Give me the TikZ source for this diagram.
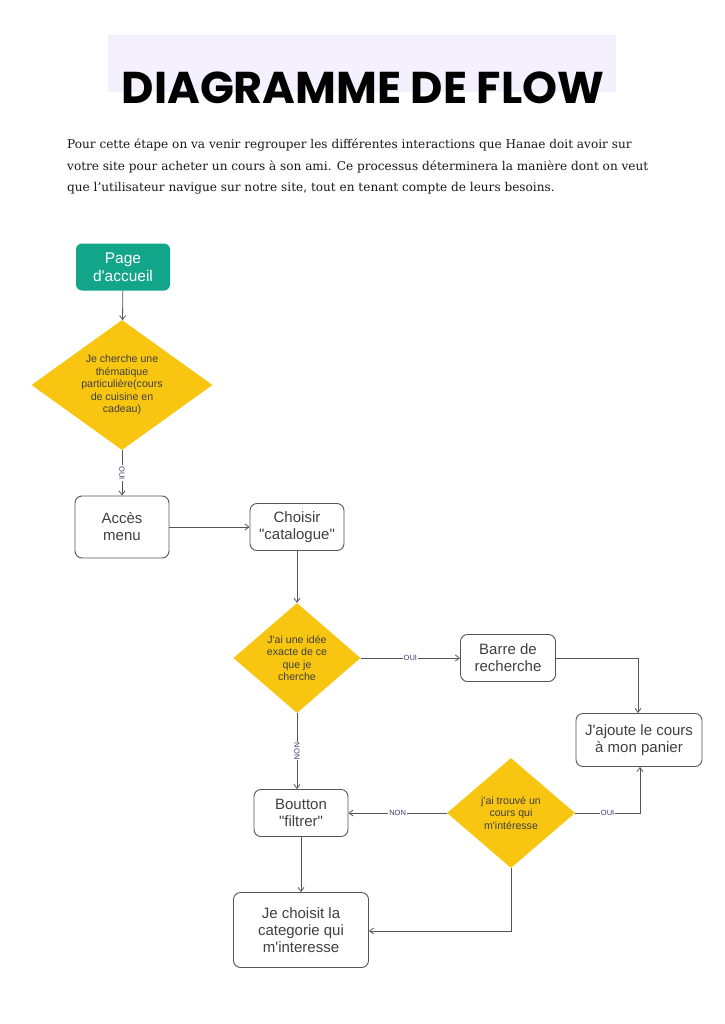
\documentclass[tikz,border=0pt]{standalone}
\usepackage{fontspec}
\setmainfont{DejaVu Serif}
\newfontfamily\titlefont{Poppins}
\newfontfamily\diagfont{Liberation Sans}
\usetikzlibrary{shapes.geometric,arrows.meta}
\definecolor{lav}{HTML}{F5F0FE}
\definecolor{teal}{HTML}{12A58A}
\definecolor{yel}{HTML}{F8C610}
\definecolor{edge}{HTML}{555555}
\definecolor{lbl}{HTML}{3A3A70}
\tikzset{
  box/.style={draw=edge, line width=0.9pt, rounded corners=7pt, fill=white, align=center,
    font=\diagfont\fontsize{15}{17}\selectfont, text=black!75, inner sep=2pt},
  startbox/.style={fill=teal, rounded corners=6pt, align=center,
    font=\diagfont\fontsize{15.5}{18}\selectfont, text=white, inner sep=2pt},
  decision/.style={diamond, fill=yel, inner sep=0pt},
  dtext/.style={align=center, inner sep=0pt, font=\diagfont\fontsize{10.6}{12.4}\selectfont, text=black!75},
  conn/.style={draw=edge, line width=0.8pt, -{Straight Barb[length=4pt,width=6pt]}},
  elabel/.style={fill=white, inner sep=1pt, font=\diagfont\fontsize{7.5}{8}\selectfont, text=lbl}
}
\begin{document}
\begin{tikzpicture}[x=1pt,y=-1pt]
\useasboundingbox (0,0) rectangle (724,1024);
\fill[white] (0,0) rectangle (724,1024);
\fill[lav] (108,35) rectangle (616,92);
\node[font=\titlefont\bfseries\fontsize{44.5}{48}\selectfont, inner sep=0pt] (title) at (363,88) {DIAGRAMME DE FLOW};
\node[anchor=north west, align=left, inner sep=0pt, font=\fontsize{12.1}{21.5}\selectfont, text=black!90] (intro) at (67,139)
{Pour cette étape on va venir regrouper les différentes interactions que Hanae doit avoir sur\\
votre site pour acheter un cours à son ami. Ce processus déterminera la manière dont on veut\\
que l'utilisateur navigue sur notre site, tout en tenant compte de leurs besoins.};

\node[startbox, minimum width=94pt, minimum height=47pt] (accueil) at (123,267) {Page\\d'accueil};
\node[decision, minimum width=181pt, minimum height=130pt] (d1) at (122,385) {};
\node[dtext] (t1) at (d1.center) {Je cherche une\\thématique\\particulière(cours\\de cuisine en\\cadeau)};
\node[box, minimum width=94pt, minimum height=62pt] (acces) at (122,527) {Accès\\menu};
\node[box, minimum width=94pt, minimum height=47pt] (choisir) at (297,527) {Choisir\\"catalogue"};
\node[decision, minimum width=127pt, minimum height=110pt] (d2) at (297,658) {};
\node[dtext] (t2) at (d2.center) {J'ai une idée\\exacte de ce\\que je\\cherche};
\node[box, minimum width=95pt, minimum height=47pt] (barre) at (508,658) {Barre de\\recherche};
\node[box, minimum width=126pt, minimum height=53pt] (panier) at (639,740) {J'ajoute le cours\\à mon panier};
\node[box, minimum width=94pt, minimum height=47pt] (filtrer) at (301,813) {Boutton\\"filtrer"};
\node[decision, minimum width=128pt, minimum height=110pt] (d3) at (511,813) {};
\node[dtext] (t3) at (d3.center) {j'ai trouvé un\\cours qui\\m'intéresse};
\node[box, minimum width=135pt, minimum height=75pt] (categ) at (301,930) {Je choisit la\\categorie qui\\m'interesse};

\coordinate (c1) at (638,658);
\coordinate (c2) at (640,813);
\coordinate (c3) at (511,931);

\draw[conn] (accueil) -- (d1);
\draw[conn] (d1) -- node[elabel, rotate=-90] {OUI} (acces);
\draw[conn] (acces) -- (choisir);
\draw[conn] (choisir.south -| d2.north) -- (d2.north);
\draw[conn] (d2) -- node[elabel] {OUI} (barre);
\draw[conn] (barre.east) -- (c1) -- (c1 |- panier.north);
\draw[conn] (d2.south) -- node[elabel, rotate=-90] {NON} (d2.south |- filtrer.north);
\draw[conn] (d3) -- node[elabel] {NON} (filtrer);
\draw[conn] (d3.east) -- node[elabel] {OUI} (c2) -- (c2 |- panier.south);
\draw[conn] (filtrer) -- (categ);
\draw[conn] (d3.south) -- (c3) -- (categ.east |- c3);
\end{tikzpicture}
\end{document}
